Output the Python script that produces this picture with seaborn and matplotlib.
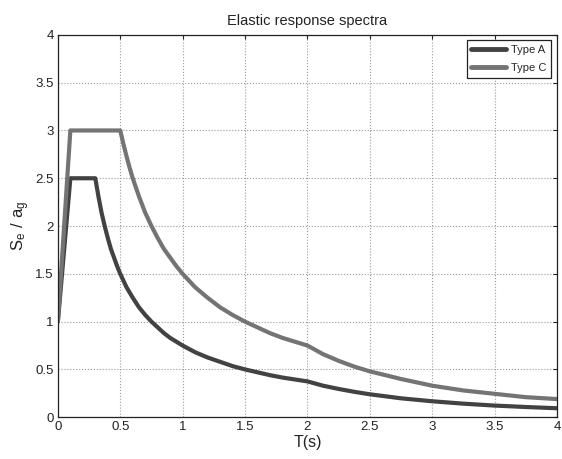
import numpy as np
import pandas as pd
import seaborn as sns
import matplotlib
matplotlib.use("Agg")
import matplotlib.pyplot as plt

# period T (s) and normalised spectral acceleration
t_a = [0, 0.1, 0.3, 0.325, 0.35, 0.375, 0.4, 0.425, 0.45, 0.475, 0.5, 0.55, 0.6, 0.65,
       0.7, 0.75, 0.8, 0.85, 0.9, 0.95, 1.0, 1.1, 1.2, 1.3, 1.4, 1.5, 1.6, 1.7, 1.8, 1.9,
       2.0, 2.125, 2.25, 2.375, 2.5, 2.75, 3.0, 3.25, 3.5, 3.75, 4.0]
se_a = [1.0, 2.5, 2.5, 2.31, 2.14, 2.0, 1.875, 1.76, 1.67, 1.58, 1.5, 1.36, 1.25, 1.15,
        1.07, 1.0, 0.94, 0.88, 0.83, 0.79, 0.75, 0.68, 0.625, 0.58, 0.535, 0.5, 0.47, 0.44, 0.415, 0.395,
        0.375, 0.33, 0.296, 0.266, 0.24, 0.198, 0.167, 0.142, 0.122, 0.107, 0.094]

t_c = [0, 0.1, 0.5, 0.525, 0.55, 0.575, 0.6, 0.65, 0.7, 0.75, 0.8, 0.85, 0.9, 0.95,
       1.0, 1.1, 1.2, 1.3, 1.4, 1.5, 1.6, 1.7, 1.8, 1.9, 2.0, 2.125, 2.25, 2.375, 2.5,
       2.75, 3.0, 3.25, 3.5, 3.75, 4.0]
se_c = [1.0, 3.0, 3.0, 2.86, 2.73, 2.61, 2.5, 2.31, 2.14, 2.0, 1.875, 1.76, 1.67, 1.58,
        1.5, 1.36, 1.25, 1.15, 1.07, 1.0, 0.94, 0.88, 0.83, 0.79, 0.75, 0.66, 0.59, 0.53, 0.48,
        0.40, 0.33, 0.28, 0.245, 0.21, 0.19]

types = ["Type A", "Type C"]
colors = ["#424242", "#747474"]
ticks = ["0", "0.5", "1", "1.5", "2", "2.5", "3", "3.5", "4"]

df = pd.concat([
    pd.DataFrame({"T": t_a, "Se": se_a, "type": types[0]}),
    pd.DataFrame({"T": t_c, "Se": se_c, "type": types[1]}),
])

sns.set_style("white")
plt.rcParams["font.family"] = ["Liberation Sans", "DejaVu Sans"]

fig = plt.figure(figsize=(5.62, 4.59), dpi=100)
ax = fig.add_axes([0.103, 0.091, 0.888, 0.833])

sns.lineplot(data=df, x="T", y="Se", hue="type", palette=colors, linewidth=3,
             sort=False, ax=ax)

ax.set_xlim(0, 4)
ax.set_ylim(0, 4)
ax.set_xticks(np.arange(0, 4.01, 0.5))
ax.set_yticks(np.arange(0, 4.01, 0.5))
ax.set_xticklabels(ticks)
ax.set_yticklabels(ticks)
ax.grid(True, linestyle=":", color="#9a9a9a", linewidth=0.8)
ax.tick_params(direction="in", length=3, width=0.8, top=True, right=True,
               labelsize=9.5, colors="#222222", pad=3)
for s in ax.spines.values():
    s.set_color("#222222")
    s.set_linewidth(0.9)

ax.set_title("Elastic response spectra", fontsize=10.5, color="#222222", pad=7)
ax.set_xlabel("T(s)", fontsize=11.5, color="#222222", labelpad=1)
ax.set_ylabel(r"$\mathregular{S_e\ /\ a_g}$", fontsize=12, color="#222222", labelpad=2)

leg = ax.legend(loc="upper right", fontsize=8, frameon=True, fancybox=False,
                edgecolor="#222222", framealpha=1, handlelength=3.1,
                borderaxespad=0.5, labelspacing=0.75, handletextpad=0.5,
                borderpad=0.4)
leg.get_frame().set_linewidth(0.9)
for line in leg.get_lines():
    line.set_linewidth(3.5)

fig.savefig("out.png", dpi=100)
